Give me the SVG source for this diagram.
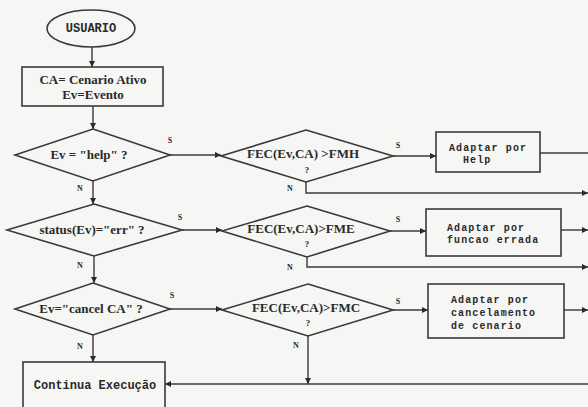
<svg xmlns="http://www.w3.org/2000/svg" width="588" height="407" viewBox="0 0 588 407">
<style>
.shape{fill:none;stroke:#3a3a3a;stroke-width:1.6}
.line{fill:none;stroke:#3a3a3a;stroke-width:1.4}
.serif{font-family:"Liberation Serif","DejaVu Serif",serif;font-weight:bold;font-size:13px;fill:#2a2a2a;text-anchor:middle}
.q{font-family:"Liberation Serif","DejaVu Serif",serif;font-weight:bold;font-size:9px;fill:#2a2a2a;text-anchor:middle}
.mono{font-family:"Liberation Mono","DejaVu Sans Mono",monospace;font-weight:bold;font-size:12px;fill:#2a2a2a}
.mb{font-family:"Liberation Mono","DejaVu Sans Mono",monospace;font-weight:bold;font-size:10px;letter-spacing:1.1px;fill:#2a2a2a}
.lbl{font-family:"Liberation Serif","DejaVu Serif",serif;font-weight:bold;font-size:8px;fill:#2a2a2a;text-anchor:middle}
</style>
<defs>
<marker id="arr" viewBox="0 0 6 6" refX="6" refY="3" markerWidth="6" markerHeight="6" orient="auto" markerUnits="userSpaceOnUse">
<path d="M0,0 L6,3 L0,6 z" fill="#2a2a2a"/>
</marker>
</defs>
<rect x="0" y="0" width="588" height="407" fill="#f6f6f4"/>

<g id="connectors">
<path class="line" d="M92,47 V67" marker-end="url(#arr)"/>
<path class="line" d="M93,106 V129" marker-end="url(#arr)"/>
<path class="line" d="M93,181 V204" marker-end="url(#arr)"/>
<path class="line" d="M94,256 V283" marker-end="url(#arr)"/>
<path class="line" d="M93,335 V362" marker-end="url(#arr)"/>
<path class="line" d="M170,155 H221" marker-end="url(#arr)"/>
<path class="line" d="M182,230 H222" marker-end="url(#arr)"/>
<path class="line" d="M170,309 H222" marker-end="url(#arr)"/>
<path class="line" d="M393,156 H436" marker-end="url(#arr)"/>
<path class="line" d="M390,231 H426" marker-end="url(#arr)"/>
<path class="line" d="M393,310 H428" marker-end="url(#arr)"/>
<path class="line" d="M540,153 H588"/>
<path class="line" d="M561,230 H588" marker-end="url(#arr)"/>
<path class="line" d="M564,310 H588" marker-end="url(#arr)"/>
<path class="line" d="M306,182 V193 H588" marker-end="url(#arr)"/>
<path class="line" d="M307,257 V267 H588" marker-end="url(#arr)"/>
<path class="line" d="M308,336 V384" marker-end="url(#arr)"/>
<path class="line" d="M588,384 H165" marker-end="url(#arr)"/>
<text class="lbl" x="170" y="143">S</text>
<text class="lbl" x="180" y="220">S</text>
<text class="lbl" x="172" y="298">S</text>
<text class="lbl" x="80" y="191">N</text>
<text class="lbl" x="80" y="268">N</text>
<text class="lbl" x="80" y="349">N</text>
<text class="lbl" x="398" y="148">S</text>
<text class="lbl" x="398" y="222">S</text>
<text class="lbl" x="398" y="304">S</text>
<text class="lbl" x="290" y="191">N</text>
<text class="lbl" x="290" y="270">N</text>
<text class="lbl" x="296" y="348">N</text>
</g>

<g id="usuario">
<ellipse class="shape" cx="91" cy="28.5" rx="44" ry="18.5"/>
<text class="mono" x="91" y="32" text-anchor="middle" font-size="11">USUARIO</text>
</g>
<g id="init">
<rect class="shape" x="22" y="67" width="141" height="39"/>
<text class="serif" x="93" y="84">CA= Cenario Ativo</text>
<text class="serif" x="93" y="99">Ev=Evento</text>
</g>
<g id="d-help">
<polygon class="shape" points="93,129 170,155 93,181 15,155"/>
<text class="serif" x="89" y="159">Ev = "help" ?</text>
</g>
<g id="d-err">
<polygon class="shape" points="94,204 182,230 94,256 7,230"/>
<text class="serif" x="92" y="234">status(Ev)="err" ?</text>
</g>
<g id="d-cancel">
<polygon class="shape" points="93,283 170,309 93,335 15,309"/>
<text class="serif" x="91" y="313">Ev="cancel CA" ?</text>
</g>
<g id="continua">
<rect class="shape" x="23" y="362" width="142" height="46"/>
<text class="mono" x="95" y="389" text-anchor="middle">Continua Execução</text>
</g>
<g id="d-fmh">
<polygon class="shape" points="306,130 393,156 306,182 221,156"/>
<text class="serif" x="303" y="158">FEC(Ev,CA) &gt;FMH</text>
<text class="q" x="307" y="173">?</text>
</g>
<g id="d-fme">
<polygon class="shape" points="307,206 390,231 307,257 222,231"/>
<text class="serif" x="301" y="233">FEC(Ev,CA)&gt;FME</text>
<text class="q" x="307" y="247">?</text>
</g>
<g id="d-fmc">
<polygon class="shape" points="308,284 393,310 308,336 222,310"/>
<text class="serif" x="306" y="312">FEC(Ev,CA)&gt;FMC</text>
<text class="q" x="308" y="326">?</text>
</g>
<g id="a-help">
<rect class="shape" x="436" y="132" width="104" height="40"/>
<text class="mb" x="449" y="151">Adaptar por</text>
<text class="mb" x="463" y="163">Help</text>
</g>
<g id="a-err">
<rect class="shape" x="426" y="209" width="135" height="47"/>
<text class="mb" x="447" y="231">Adaptar por</text>
<text class="mb" x="447" y="243">funcao errada</text>
</g>
<g id="a-cancel">
<rect class="shape" x="428" y="284" width="136" height="54"/>
<text class="mb" x="451" y="303">Adaptar por</text>
<text class="mb" x="451" y="316">cancelamento</text>
<text class="mb" x="451" y="329">de cenario</text>
</g>
</svg>
